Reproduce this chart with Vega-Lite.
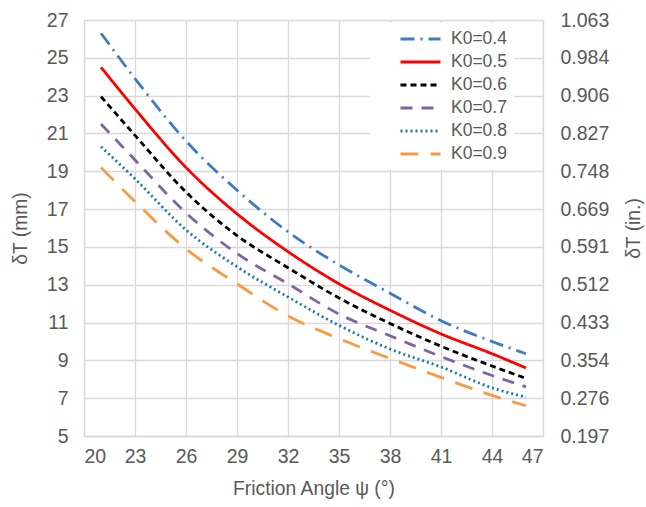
{
  "$schema": "https://vega.github.io/schema/vega-lite/v6.json",
  "width": 459,
  "height": 416,
  "autosize": {"type": "none"},
  "padding": {"left": 84, "top": 20, "right": 103, "bottom": 71},
  "background": "white",
  "config": {
    "font": "Liberation Sans",
    "view": {"stroke": null},
    "axis": {
      "labelFont": "Liberation Sans",
      "titleFont": "Liberation Sans",
      "labelFontSize": 19.5,
      "titleFontSize": 19.3,
      "labelColor": "#595959",
      "titleColor": "#595959",
      "titleFontWeight": "normal",
      "gridColor": "#d9d9d9",
      "gridWidth": 1.3,
      "domainColor": "#d9d9d9",
      "domainWidth": 1.3,
      "ticks": false
    },
    "legend": {
      "labelFont": "Liberation Sans",
      "labelFontSize": 17.5,
      "labelColor": "#595959"
    }
  },
  "data": {
    "values": [
      {"psi": 21, "series": "K0=0.4", "d": 26.3},
      {"psi": 23, "series": "K0=0.4", "d": 23.9},
      {"psi": 26, "series": "K0=0.4", "d": 20.6},
      {"psi": 29, "series": "K0=0.4", "d": 18.0},
      {"psi": 32, "series": "K0=0.4", "d": 15.8},
      {"psi": 35, "series": "K0=0.4", "d": 14.05},
      {"psi": 38, "series": "K0=0.4", "d": 12.55},
      {"psi": 41, "series": "K0=0.4", "d": 11.1},
      {"psi": 44, "series": "K0=0.4", "d": 10.0},
      {"psi": 46, "series": "K0=0.4", "d": 9.35},
      {"psi": 21, "series": "K0=0.5", "d": 24.5},
      {"psi": 23, "series": "K0=0.5", "d": 22.3},
      {"psi": 26, "series": "K0=0.5", "d": 19.2},
      {"psi": 29, "series": "K0=0.5", "d": 16.75},
      {"psi": 32, "series": "K0=0.5", "d": 14.75},
      {"psi": 35, "series": "K0=0.5", "d": 13.05},
      {"psi": 38, "series": "K0=0.5", "d": 11.65},
      {"psi": 41, "series": "K0=0.5", "d": 10.4},
      {"psi": 44, "series": "K0=0.5", "d": 9.35},
      {"psi": 46, "series": "K0=0.5", "d": 8.6},
      {"psi": 21, "series": "K0=0.6", "d": 22.95},
      {"psi": 23, "series": "K0=0.6", "d": 20.9},
      {"psi": 26, "series": "K0=0.6", "d": 17.9},
      {"psi": 29, "series": "K0=0.6", "d": 15.6},
      {"psi": 32, "series": "K0=0.6", "d": 13.9},
      {"psi": 35, "series": "K0=0.6", "d": 12.3},
      {"psi": 38, "series": "K0=0.6", "d": 10.95},
      {"psi": 41, "series": "K0=0.6", "d": 9.75},
      {"psi": 44, "series": "K0=0.6", "d": 8.7},
      {"psi": 46, "series": "K0=0.6", "d": 8.05},
      {"psi": 21, "series": "K0=0.7", "d": 21.5},
      {"psi": 23, "series": "K0=0.7", "d": 19.6},
      {"psi": 26, "series": "K0=0.7", "d": 16.8},
      {"psi": 29, "series": "K0=0.7", "d": 14.65},
      {"psi": 32, "series": "K0=0.7", "d": 13.05},
      {"psi": 35, "series": "K0=0.7", "d": 11.45},
      {"psi": 38, "series": "K0=0.7", "d": 10.3},
      {"psi": 41, "series": "K0=0.7", "d": 9.2},
      {"psi": 44, "series": "K0=0.7", "d": 8.2},
      {"psi": 46, "series": "K0=0.7", "d": 7.6},
      {"psi": 21, "series": "K0=0.8", "d": 20.3},
      {"psi": 23, "series": "K0=0.8", "d": 18.6},
      {"psi": 26, "series": "K0=0.8", "d": 15.9},
      {"psi": 29, "series": "K0=0.8", "d": 13.95},
      {"psi": 32, "series": "K0=0.8", "d": 12.35},
      {"psi": 35, "series": "K0=0.8", "d": 10.85},
      {"psi": 38, "series": "K0=0.8", "d": 9.6},
      {"psi": 41, "series": "K0=0.8", "d": 8.65},
      {"psi": 44, "series": "K0=0.8", "d": 7.55},
      {"psi": 46, "series": "K0=0.8", "d": 7.05},
      {"psi": 21, "series": "K0=0.9", "d": 19.2},
      {"psi": 23, "series": "K0=0.9", "d": 17.4},
      {"psi": 26, "series": "K0=0.9", "d": 14.9},
      {"psi": 29, "series": "K0=0.9", "d": 13.05},
      {"psi": 32, "series": "K0=0.9", "d": 11.35},
      {"psi": 35, "series": "K0=0.9", "d": 10.15},
      {"psi": 38, "series": "K0=0.9", "d": 9.1},
      {"psi": 41, "series": "K0=0.9", "d": 8.1},
      {"psi": 44, "series": "K0=0.9", "d": 7.15},
      {"psi": 46, "series": "K0=0.9", "d": 6.6}
    ]
  },
  "layer": [
    {
      "mark": {"type": "line", "interpolate": "monotone", "strokeWidth": 2.8},
      "encoding": {
        "x": {
          "field": "psi", "type": "quantitative",
          "scale": {"domain": [20, 47], "nice": false, "zero": false},
          "axis": {"values": [20, 23, 26, 29, 32, 35, 38, 41, 44, 47], "title": "Friction Angle ψ (°)", "labelPadding": 11, "titlePadding": 14, "grid": true}
        },
        "y": {
          "field": "d", "type": "quantitative",
          "scale": {"domain": [5, 27], "nice": false, "zero": false},
          "axis": {"values": [5, 7, 9, 11, 13, 15, 17, 19, 21, 23, 25, 27], "title": "δT (mm)", "labelPadding": 16, "titlePadding": 16, "grid": true}
        },
        "color": {
          "field": "series", "type": "nominal",
          "scale": {
            "domain": ["K0=0.4", "K0=0.5", "K0=0.6", "K0=0.7", "K0=0.8", "K0=0.9"],
            "range": ["#3F7BC1", "#FF0000", "#000000", "#8064A2", "#1B7BA2", "#F89A43"]
          },
          "legend": {
            "title": null,
            "orient": "none",
            "legendX": 286,
            "legendY": 3,
            "fillColor": "white",
            "padding": 7,
            "symbolType": "stroke",
            "symbolSize": 1600,
            "symbolStrokeWidth": 2.8,
            "clipHeight": 18,
            "rowPadding": 5,
            "labelOffset": 9,
            "symbolOffset": 22
          }
        },
        "strokeDash": {
          "field": "series", "type": "nominal",
          "scale": {
            "domain": ["K0=0.4", "K0=0.5", "K0=0.6", "K0=0.7", "K0=0.8", "K0=0.9"],
            "range": [[14, 6, 2, 6], [1, 0], [6, 4], [12, 9], [2, 3], [18, 12]]
          },
          "legend": {
            "title": null,
            "orient": "none",
            "legendX": 286,
            "legendY": 3,
            "fillColor": "white",
            "padding": 7,
            "symbolType": "stroke",
            "symbolSize": 1600,
            "symbolStrokeWidth": 2.8,
            "clipHeight": 18,
            "rowPadding": 5,
            "labelOffset": 9,
            "symbolOffset": 22
          }
        }
      }
    },
    {
      "mark": {"type": "line", "opacity": 0},
      "encoding": {
        "x": {"field": "psi", "type": "quantitative", "scale": {"domain": [20, 47], "nice": false, "zero": false}},
        "y": {
          "field": "d", "type": "quantitative",
          "scale": {"domain": [5, 27], "nice": false, "zero": false},
          "axis": {
            "orient": "right",
            "values": [5, 7, 9, 11, 13, 15, 17, 19, 21, 23, 25, 27],
            "labelExpr": "format(datum.value / 25.4, '.3f')",
            "title": "δT (in.)",
            "titleAngle": 270,
            "labelPadding": 17,
            "titlePadding": 35,
            "grid": false,
            "domain": true
          }
        },
        "detail": {"field": "series", "type": "nominal"}
      }
    }
  ],
  "resolve": {"scale": {"y": "independent"}}
}
